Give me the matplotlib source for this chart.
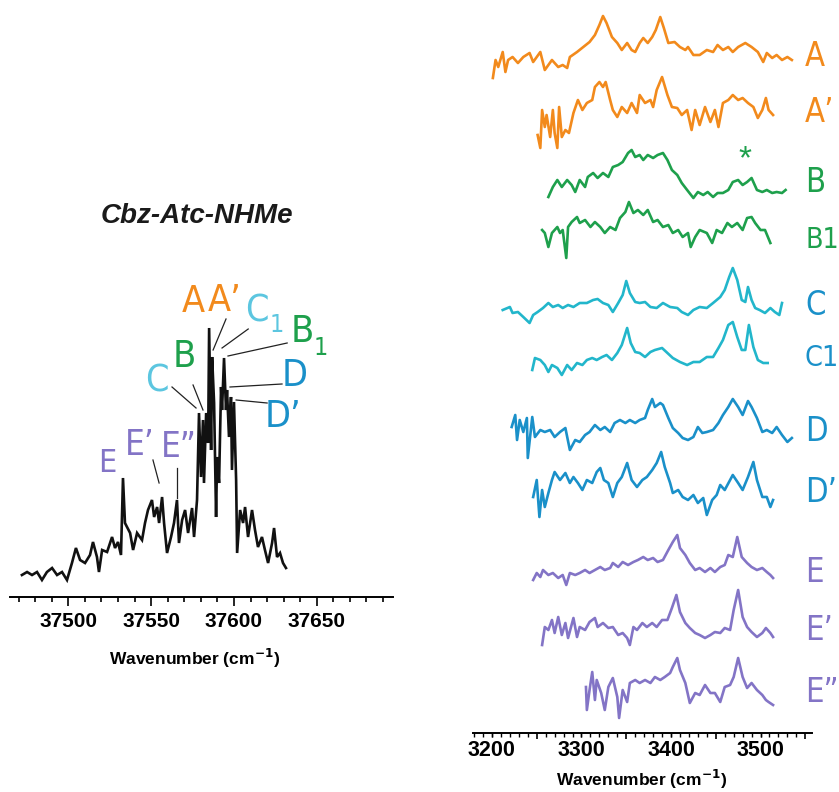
import matplotlib
matplotlib.use("Agg")
import matplotlib.pyplot as plt
from matplotlib import font_manager
from matplotlib.font_manager import FontProperties

SANS = "Liberation Sans"

# look for a condensed / narrow sans face (the reference labels use a narrow font)
_cands = []
for f in font_manager.fontManager.ttflist:
    fn = f.fname.lower()
    if ("narrow" in fn or "condensed" in fn) and f.style == "normal" and f.weight in (400, "normal", "regular"):
        rank = 0 if "liberation" in fn else (1 if "dejavusans" in fn.replace("-", "") else 2)
        _cands.append((rank, f.fname))
_cands.sort()
NARROW_PATH = _cands[0][1] if _cands else None
SCALE = 1.0 if NARROW_PATH else 0.86


def lab_fp(size):
    if NARROW_PATH:
        return FontProperties(fname=NARROW_PATH, size=size)
    return FontProperties(family=SANS, size=size * SCALE)


# ---------------- data: left (UV) spectrum ----------------
uv_wn = [37472.0, 37475.1, 37478.1, 37481.1, 37484.1, 37487.1, 37490.2, 37493.2, 37496.2, 37499.2,
         37502.2, 37504.6, 37507.1, 37510.1, 37513.1, 37514.9, 37517.3, 37518.5, 37520.4, 37523.4,
         37526.4, 37528.2, 37530.0, 37531.8, 37533.0, 37534.2, 37537.3, 37539.1, 37541.5, 37544.5,
         37546.3, 37548.1, 37550.5, 37551.8, 37553.6, 37554.8, 37556.6, 37557.8, 37559.6, 37562.0,
         37563.8, 37565.6, 37566.8, 37568.7, 37570.5, 37572.3, 37574.7, 37575.9, 37577.7, 37578.9,
         37580.1, 37581.3, 37581.9, 37583.2, 37584.4, 37585.0, 37586.2, 37586.8, 37588.0, 37589.2,
         37589.8, 37591.0, 37592.2, 37592.8, 37594.0, 37595.2, 37595.8, 37597.0, 37598.2, 37598.8,
         37600.0, 37601.3, 37601.9, 37603.7, 37605.5, 37606.7, 37608.5, 37610.9, 37612.7, 37614.5,
         37616.9, 37618.7, 37620.6, 37623.0, 37624.2, 37626.0, 37627.8, 37629.6, 37631.4]
uv_int = [5, 8, 5, 8, 0, 8, 12, 5, 8, 0,
          17, 32, 20, 17, 25, 38, 23, 8, 30, 28,
          43, 32, 38, 25, 102, 57, 47, 30, 47, 40,
          57, 70, 80, 63, 73, 57, 83, 57, 27, 43,
          57, 80, 37, 60, 70, 47, 72, 43, 80, 167,
          103, 160, 97, 167, 137, 252, 130, 223, 177, 63,
          123, 97, 193, 170, 222, 170, 190, 143, 183, 110,
          178, 100, 27, 70, 57, 73, 43, 70, 50, 33,
          43, 30, 17, 37, 52, 23, 27, 17, 12]

# ---------------- data: right (IR) spectra ----------------
A_wn = [3201, 3204, 3207, 3212, 3215, 3218, 3223, 3229, 3235, 3242, 3246, 3254, 3259, 3267, 3274, 3279,
        3284, 3287, 3295, 3302, 3309, 3315, 3320, 3324, 3328, 3334, 3340, 3345, 3351, 3356, 3360, 3365,
        3369, 3374, 3379, 3383, 3388, 3392, 3397, 3404, 3410, 3416, 3419, 3425, 3432, 3440, 3447, 3452,
        3458, 3464, 3469, 3475, 3483, 3490, 3497, 3503, 3507, 3513, 3518, 3524, 3530, 3535]
A_int = [0, 18, 11, 26, 6, 18, 21, 15, 21, 25, 16, 26, 8, 18, 11, 13,
         10, 21, 26, 31, 36, 43, 53, 62, 55, 41, 35, 28, 35, 28, 26, 35,
         40, 35, 41, 48, 61, 50, 35, 36, 31, 28, 31, 23, 23, 28, 26, 33,
         28, 31, 26, 31, 35, 31, 26, 16, 25, 20, 23, 18, 21, 18]

Ap_wn = [3251, 3254, 3256, 3259, 3261, 3265, 3268, 3270, 3273, 3275, 3278, 3282, 3286, 3291, 3296, 3301,
         3306, 3312, 3315, 3320, 3324, 3327, 3332, 3335, 3340, 3345, 3351, 3356, 3362, 3365, 3371, 3377,
         3380, 3384, 3390, 3396, 3401, 3407, 3412, 3418, 3423, 3427, 3432, 3438, 3444, 3449, 3453, 3458,
         3464, 3469, 3475, 3480, 3486, 3492, 3497, 3502, 3506, 3509, 3514]
Ap_int = [13, 0, 38, 21, 33, 11, 38, 15, 0, 41, 11, 18, 15, 35, 48, 38,
          45, 48, 61, 66, 61, 66, 48, 38, 31, 41, 35, 45, 35, 53, 45, 48,
          41, 58, 71, 53, 41, 40, 33, 38, 18, 38, 23, 41, 26, 38, 21, 45,
          48, 53, 48, 50, 45, 41, 30, 38, 50, 38, 33]

B_wn = [3263, 3268, 3273, 3278, 3284, 3289, 3293, 3298, 3304, 3307, 3313, 3318, 3324, 3330, 3335, 3341,
        3346, 3352, 3356, 3360, 3365, 3369, 3374, 3380, 3385, 3391, 3396, 3401, 3407, 3412, 3418, 3425,
        3430, 3436, 3441, 3447, 3452, 3458, 3464, 3469, 3475, 3480, 3485, 3490, 3496, 3502, 3507, 3513,
        3518, 3524, 3528]
B_int = [1, 11, 18, 11, 18, 13, 6, 18, 11, 21, 25, 20, 25, 21, 31, 33,
         36, 45, 48, 41, 43, 38, 43, 40, 43, 45, 38, 28, 23, 15, 8, 0,
         6, 3, 6, 1, 5, 5, 8, 16, 18, 13, 16, 20, 8, 6, 8, 5,
         6, 5, 8]

B1_wn = [3256, 3259, 3263, 3267, 3273, 3276, 3279, 3283, 3285, 3289, 3295, 3298, 3304, 3310, 3315, 3321,
         3326, 3332, 3338, 3343, 3349, 3353, 3358, 3363, 3369, 3374, 3380, 3385, 3391, 3397, 3402, 3408,
         3413, 3419, 3422, 3427, 3432, 3440, 3446, 3451, 3457, 3463, 3468, 3474, 3480, 3485, 3490, 3494,
         3500, 3505, 3511]
B1_int = [20, 17, 3, 17, 23, 17, 20, -8, 23, 28, 33, 27, 30, 23, 28, 23,
          17, 23, 20, 32, 38, 48, 37, 40, 35, 40, 28, 30, 23, 25, 17, 20,
          13, 17, 3, 13, 20, 17, 7, 20, 17, 27, 23, 27, 20, 32, 33, 27,
          20, 20, 7]

C_wn = [3212, 3220, 3223, 3229, 3235, 3242, 3246, 3251, 3257, 3263, 3268, 3274, 3279, 3285, 3291, 3298,
        3306, 3313, 3318, 3324, 3330, 3335, 3341, 3346, 3350, 3354, 3360, 3365, 3371, 3377, 3384, 3391,
        3399, 3407, 3412, 3419, 3425, 3432, 3440, 3447, 3455, 3460, 3465, 3469, 3474, 3479, 3483, 3486,
        3490, 3494, 3499, 3505, 3511, 3516, 3521, 3524]
C_int = [13, 16, 10, 11, 6, 0, 8, 11, 15, 20, 16, 18, 15, 18, 16, 20,
         20, 23, 24, 20, 18, 11, 20, 28, 42, 30, 21, 20, 21, 16, 15, 20,
         16, 15, 11, 8, 13, 16, 15, 20, 26, 33, 46, 55, 43, 23, 21, 36,
         23, 15, 13, 10, 15, 11, 8, 20]

C1_wn = [3245, 3248, 3254, 3259, 3263, 3267, 3273, 3278, 3284, 3289, 3295, 3301, 3306, 3312, 3317, 3323,
         3328, 3334, 3340, 3345, 3351, 3355, 3360, 3365, 3371, 3377, 3382, 3390, 3396, 3402, 3410, 3418,
         3425, 3432, 3440, 3447, 3453, 3458, 3464, 3469, 3474, 3479, 3483, 3487, 3492, 3497, 3503, 3508]
C1_int = [5, 17, 15, 10, 3, 10, 7, 0, 10, 5, 12, 10, 15, 17, 15, 18,
          20, 15, 22, 30, 47, 32, 23, 22, 18, 23, 25, 27, 22, 17, 13, 10,
          13, 13, 18, 18, 27, 35, 50, 53, 38, 25, 25, 50, 28, 15, 12, 12]

D_wn = [3222, 3226, 3228, 3231, 3235, 3239, 3240, 3245, 3248, 3254, 3259, 3265, 3270, 3276, 3282, 3287,
        3293, 3298, 3304, 3309, 3315, 3321, 3326, 3332, 3337, 3343, 3349, 3354, 3360, 3365, 3371, 3374,
        3379, 3382, 3388, 3391, 3397, 3402, 3408, 3413, 3419, 3425, 3430, 3435, 3440, 3447, 3453, 3458,
        3464, 3469, 3475, 3480, 3486, 3490, 3496, 3502, 3507, 3513, 3518, 3524, 3530, 3535]
D_int = [31, 43, 18, 38, 26, 40, 0, 41, 21, 28, 26, 28, 21, 26, 30, 8,
         18, 16, 23, 26, 33, 28, 31, 26, 35, 38, 35, 38, 35, 38, 40, 48,
         59, 51, 55, 53, 40, 30, 25, 20, 18, 21, 31, 25, 26, 28, 35, 43,
         51, 59, 51, 43, 57, 51, 40, 26, 28, 25, 31, 23, 16, 20]

Dp_wn = [3246, 3250, 3253, 3256, 3259, 3263, 3267, 3270, 3276, 3282, 3287, 3291, 3296, 3301, 3306, 3312,
         3317, 3321, 3325, 3330, 3335, 3340, 3345, 3351, 3356, 3362, 3368, 3373, 3379, 3384, 3389, 3393,
         3399, 3402, 3408, 3413, 3419, 3425, 3430, 3436, 3440, 3446, 3451, 3455, 3460, 3466, 3469, 3475,
         3480, 3486, 3492, 3496, 3502, 3507, 3511, 3514]
Dp_int = [20, 37, 0, 27, 10, 24, 37, 45, 37, 44, 34, 40, 34, 27, 37, 34,
          45, 49, 37, 34, 20, 34, 40, 54, 37, 30, 37, 40, 47, 54, 65, 50,
          34, 24, 27, 20, 17, 22, 14, 19, 2, 17, 22, 32, 27, 37, 42, 34,
          27, 40, 55, 37, 20, 20, 10, 17]

E_wn = [3246, 3250, 3254, 3257, 3263, 3268, 3274, 3279, 3283, 3287, 3293, 3298, 3304, 3309, 3315, 3321,
        3326, 3332, 3335, 3341, 3346, 3352, 3358, 3363, 3369, 3374, 3380, 3385, 3391, 3397, 3402, 3407,
        3410, 3416, 3421, 3427, 3432, 3438, 3444, 3449, 3455, 3460, 3464, 3469, 3474, 3479, 3485, 3490,
        3496, 3502, 3507, 3511, 3514]
E_int = [5, 12, 8, 15, 10, 12, 7, 10, 0, 12, 10, 12, 15, 12, 15, 18,
         15, 17, 22, 18, 23, 20, 23, 25, 28, 25, 27, 23, 25, 35, 43, 50,
         37, 30, 22, 15, 17, 13, 17, 13, 18, 20, 30, 28, 48, 28, 22, 18,
         15, 17, 13, 10, 7]

Ep_wn = [3256, 3259, 3263, 3267, 3270, 3274, 3278, 3282, 3285, 3291, 3295, 3298, 3304, 3309, 3315, 3318,
         3324, 3330, 3335, 3341, 3346, 3351, 3354, 3358, 3362, 3368, 3373, 3379, 3384, 3390, 3396, 3401,
         3406, 3410, 3416, 3421, 3427, 3432, 3438, 3444, 3449, 3455, 3460, 3466, 3470, 3475, 3480, 3485,
         3490, 3496, 3502, 3506, 3511, 3514]
Ep_int = [0, 18, 15, 25, 12, 28, 10, 22, 7, 27, 8, 18, 15, 23, 27, 18,
          22, 17, 18, 10, 12, 7, 0, 18, 15, 22, 18, 22, 18, 25, 25, 37,
          50, 33, 22, 17, 12, 10, 7, 10, 13, 12, 17, 15, 35, 55, 28, 18,
          13, 8, 12, 17, 12, 8]

Epp_wn = [3305, 3306, 3309, 3312, 3315, 3317, 3322, 3326, 3330, 3335, 3340, 3342, 3346, 3351, 3354, 3360,
          3365, 3371, 3377, 3382, 3388, 3393, 3399, 3402, 3407, 3410, 3416, 3421, 3427, 3432, 3438, 3444,
          3449, 3455, 3460, 3466, 3470, 3475, 3480, 3485, 3490, 3496, 3502, 3506, 3509, 3514]
Epp_int = [31, 8, 28, 46, 18, 38, 25, 8, 31, 40, 21, 0, 28, 16, 35, 38,
           35, 38, 35, 41, 38, 41, 45, 51, 60, 48, 35, 15, 25, 23, 33, 25,
           25, 16, 31, 33, 41, 60, 41, 30, 35, 28, 23, 18, 16, 13]

ir_names = ["A", "A\u2019", "B", "B1", "C", "C1", "D", "D\u2019", "E", "E\u2019", "E\u201d"]
ir_wn = [A_wn, Ap_wn, B_wn, B1_wn, C_wn, C1_wn, D_wn, Dp_wn, E_wn, Ep_wn, Epp_wn]
ir_int = [A_int, Ap_int, B_int, B1_int, C_int, C1_int, D_int, Dp_int, E_int, Ep_int, Epp_int]

# ---------------- styling / layout ----------------
ORANGE = "#F28A1C"
GREEN = "#1EA04C"
CYAN = "#22B6CB"
BLUE = "#1A90C9"
PURPLE = "#8374C6"
LCYAN = "#5CC6E0"

ir_colors = [ORANGE, ORANGE, GREEN, GREEN, CYAN, CYAN, BLUE, BLUE, PURPLE, PURPLE, PURPLE]
label_colors = [ORANGE, ORANGE, GREEN, GREEN, BLUE, BLUE, BLUE, BLUE, PURPLE, PURPLE, PURPLE]
label_sizes = [23.5, 23.5, 23.5, 20.5, 23.5, 20.5, 23.5, 23.5, 23.5, 23.5, 23.5]
ir_offsets = [655, 585, 535, 483, 410, 358, 275, 216, 148, 88, 15]
label_ypix = [56, 113, 182, 240, 305, 358, 432, 492, 572, 630, 692]

W, H = 839, 792
fig = plt.figure(figsize=(W / 100, H / 100), dpi=100)

# ---------- left panel ----------
ax1 = fig.add_axes([10 / W, 1 - 597 / H, 383 / W, (597 - 290) / H])
ax1.plot(uv_wn, uv_int, color="#111111", lw=1.9, solid_joinstyle="miter")
ax1.set_xlim(37464.8, 37696)
ax1.set_ylim(-17, 290)
for s in ["left", "right", "top"]:
    ax1.spines[s].set_visible(False)
ax1.spines["bottom"].set_linewidth(1.4)
ax1.set_yticks([])
ax1.set_xticks([37500, 37550, 37600, 37650])
ax1.set_xticks(list(range(37470, 37700, 10)), minor=True)
ax1.tick_params(axis="x", which="major", length=6.5, width=1.2, pad=4)
ax1.tick_params(axis="x", which="minor", length=3.8, width=1.2)
for lab in ax1.get_xticklabels():
    lab.set_fontfamily(SANS)
    lab.set_fontweight("bold")
    lab.set_fontsize(15)
fig.text(195 / W, 1 - 658 / H, r"Wavenumber (cm$^{\mathbf{-1}}$)", ha="center", va="center",
         fontsize=12.5, fontweight="bold", family=SANS)
fig.text(197 / W, 1 - 216 / H, "Cbz-Atc-NHMe", ha="center", va="center",
         fontsize=20, fontweight="bold", style="italic", family=SANS, color="#1a1a1a")

# peak labels with leader lines (data coords: wavenumber, intensity)
left_labels = [
    ("A", 37575.6, 278, ORANGE, 27),
    ("A\u2019", 37594.6, 279, ORANGE, 27),
    ("C", 37553.6, 198, LCYAN, 27),
    ("C", 37613.9, 269, LCYAN, 27),
    ("1", 37626.0, 255, LCYAN, 18),
    ("B", 37569.9, 223, GREEN, 27),
    ("B", 37641.1, 248, GREEN, 27),
    ("1", 37652.6, 232, GREEN, 18),
    ("D", 37636.9, 204, BLUE, 27),
    ("D\u2019", 37629.7, 163, BLUE, 27),
    ("E", 37523.4, 117, PURPLE, 23),
    ("E\u2019", 37543.3, 135, PURPLE, 25),
    ("E\u201d", 37566.9, 133, PURPLE, 25),
]
for t, x, y, c, fs in left_labels:
    ax1.text(x, y, t, color=c, ha="center", va="center", fontproperties=lab_fp(fs))

leaders = [
    ((37562.6, 37577.1), (193, 172)),
    ((37575.3, 37581.3), (195, 170)),
    ((37595.2, 37587.4), (261, 230)),
    ((37608.6, 37592.8), (251, 232)),
    ((37632.1, 37596.4), (237, 224)),
    ((37629.0, 37597.6), (196, 193)),
    ((37620.0, 37601.3), (177, 180)),
    ((37551.1, 37554.8), (120, 97)),
    ((37565.6, 37565.6), (112, 82)),
]
for xs, ys in leaders:
    ax1.plot(xs, ys, color="#222222", lw=0.9)

# ---------- right panel ----------
ax2 = fig.add_axes([473 / W, 1 - 733 / H, 339 / W, 733 / H])
for wn, it, off, c in zip(ir_wn, ir_int, ir_offsets, ir_colors):
    ax2.plot(wn, [off + v for v in it], color=c, lw=1.9)
ax2.set_xlim(3178.8, 3557.5)
ax2.set_ylim(0, 733)
for s in ["left", "right", "top"]:
    ax2.spines[s].set_visible(False)
ax2.spines["bottom"].set_linewidth(1.4)
ax2.set_yticks([])
ax2.set_xticks([3250, 3350, 3450, 3550])
ax2.set_xticklabels([])
ax2.set_xticks(list(range(3180, 3560, 10)), minor=True)
ax2.tick_params(axis="x", which="major", length=4.5, width=1.2)
ax2.tick_params(axis="x", which="minor", length=2.6, width=1.0)
sec = ax2.secondary_xaxis("bottom")
sec.spines["bottom"].set_visible(False)
sec.set_xticks([3200, 3300, 3400, 3500])
sec.tick_params(axis="x", length=2.6, width=1.0, pad=2.5)
for lab in sec.get_xticklabels():
    lab.set_fontfamily(SANS)
    lab.set_fontweight("bold")
    lab.set_fontsize(15.5)
fig.text(642 / W, 1 - 779 / H, r"Wavenumber (cm$^{\mathbf{-1}}$)", ha="center", va="center",
         fontsize=12.5, fontweight="bold", family=SANS)

ax2.text(3482.7, 573, "*", color=GREEN, fontsize=24, ha="center", va="center", family=SANS)

for name, c, yp, fs in zip(ir_names, label_colors, label_ypix, label_sizes):
    fig.text(805 / W, 1 - yp / H, name, color=c, ha="left", va="center", fontproperties=lab_fp(fs))

fig.savefig("out.png", dpi=100)
